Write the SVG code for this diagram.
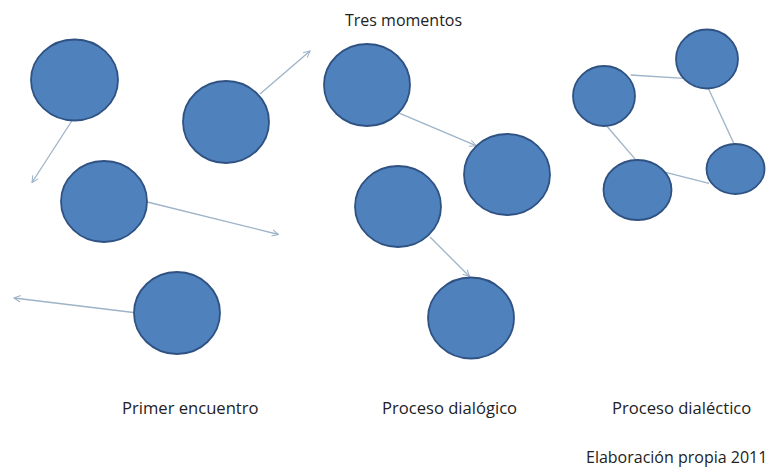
<svg xmlns="http://www.w3.org/2000/svg" width="769" height="468" viewBox="0 0 769 468">
<defs>
<style>
.node{fill:#4F81BD;stroke:#2F5283;stroke-width:1.8}
.conn{fill:none;stroke:#9DB3C8;stroke-width:1.3}
.lbl{font-family:"Open Sans","Liberation Sans",sans-serif;font-size:16px;fill:#222}
.big{font-size:16.6px}
</style>
<marker id="arr" viewBox="0 0 10 10" refX="9" refY="5" markerWidth="8" markerHeight="8" orient="auto" markerUnits="userSpaceOnUse">
<path d="M1,1 L9,5 L1,9" fill="none" stroke="#9DB3C8" stroke-width="1.3"/>
</marker>
</defs>
<rect width="769" height="468" fill="#fff"/>
<g id="connectors">
<line class="conn" x1="72.7" y1="119.5" x2="32" y2="182.5" marker-end="url(#arr)"/>
<line class="conn" x1="260" y1="94" x2="310" y2="51" marker-end="url(#arr)"/>
<line class="conn" x1="147.3" y1="202" x2="278.5" y2="234.5" marker-end="url(#arr)"/>
<line class="conn" x1="133.5" y1="312.5" x2="14" y2="298" marker-end="url(#arr)"/>
<line class="conn" x1="398" y1="112.7" x2="476" y2="145.7" marker-end="url(#arr)"/>
<line class="conn" x1="430" y1="237" x2="469.5" y2="276.5" marker-end="url(#arr)"/>
<line class="conn" x1="630.7" y1="75" x2="684" y2="78.3"/>
<line class="conn" x1="708.3" y1="88.3" x2="735" y2="146"/>
<line class="conn" x1="606.7" y1="126" x2="637.3" y2="161.7"/>
<line class="conn" x1="662.7" y1="171.7" x2="709" y2="183.3"/>
</g>
<g id="n1"><ellipse class="node" cx="74.5" cy="80" rx="43.5" ry="40.5"/></g>
<g id="n2"><ellipse class="node" cx="226" cy="122" rx="43" ry="41"/></g>
<g id="n3"><ellipse class="node" cx="104" cy="201.5" rx="43" ry="40.5"/></g>
<g id="n4"><ellipse class="node" cx="177" cy="313" rx="43" ry="41"/></g>
<g id="n5"><ellipse class="node" cx="367" cy="85" rx="43" ry="41"/></g>
<g id="n6"><ellipse class="node" cx="507" cy="174.5" rx="43" ry="40.5"/></g>
<g id="n7"><ellipse class="node" cx="398" cy="206.5" rx="43" ry="40.5"/></g>
<g id="n8"><ellipse class="node" cx="471" cy="318" rx="43" ry="40.5"/></g>
<g id="n9"><ellipse class="node" cx="604" cy="96" rx="31" ry="30"/></g>
<g id="n10"><ellipse class="node" cx="707" cy="59" rx="31" ry="29.5"/></g>
<g id="n11"><ellipse class="node" cx="735.5" cy="169" rx="29" ry="25"/></g>
<g id="n12"><ellipse class="node" cx="637.5" cy="190" rx="34" ry="30"/></g>
<g id="labels">
<text class="lbl" x="345" y="26">Tres momentos</text>
<text class="lbl big" x="122" y="414">Primer encuentro</text>
<text class="lbl big" x="382" y="414">Proceso dialógico</text>
<text class="lbl big" x="612" y="414">Proceso dialéctico</text>
<text class="lbl" x="586" y="463">Elaboración propia 2011</text>
</g>
</svg>
